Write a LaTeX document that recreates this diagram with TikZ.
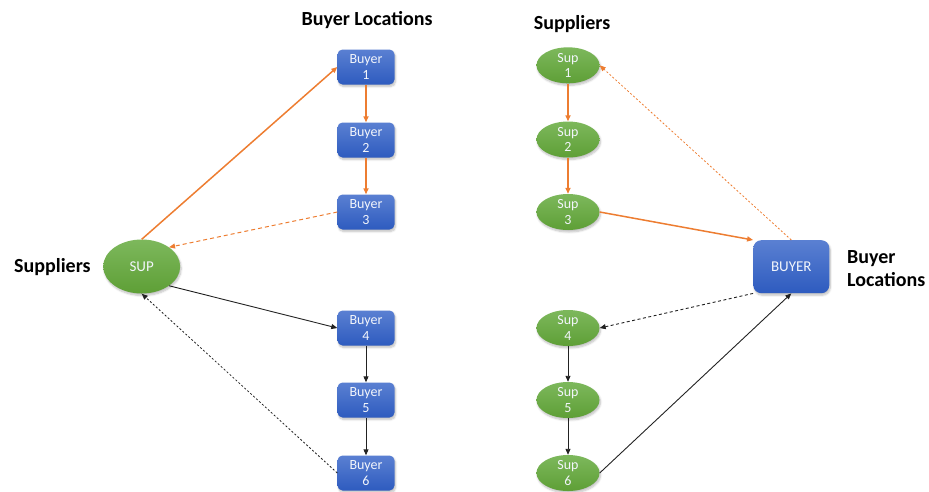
\documentclass[tikz,border=0pt]{standalone}
\usepackage{fontspec}
\setmainfont{Carlito}
\usetikzlibrary{shapes.geometric,shadows.blur,arrows.meta}
\definecolor{bluetop}{HTML}{5A80D2}
\definecolor{bluebot}{HTML}{2E5BBF}
\definecolor{greentop}{HTML}{7DB85C}
\definecolor{greenbot}{HTML}{5E9F36}
\definecolor{orangeln}{HTML}{ED7D31}
\definecolor{darkln}{HTML}{222222}
\definecolor{nodetext}{HTML}{F2F5FB}
\tikzset{
  bbox/.style={rectangle, rounded corners=5pt, minimum width=57pt, minimum height=35pt,
    top color=bluetop, bottom color=bluebot, draw=none, text=nodetext, align=center,
    font=\fontsize{14}{15.5}\selectfont, inner sep=0pt,
    blur shadow={shadow blur steps=6, shadow xshift=1pt, shadow yshift=-2pt, shadow opacity=25}},
  bigbox/.style={bbox, rounded corners=8pt, minimum width=76pt, minimum height=53pt, font=\fontsize{15}{17}\selectfont},
  sbox/.style={ellipse, minimum width=63pt, minimum height=36pt,
    top color=greentop, bottom color=greenbot, draw=none, text=nodetext, align=center,
    font=\fontsize{14}{15.5}\selectfont, inner sep=0pt,
    blur shadow={shadow blur steps=6, shadow xshift=1pt, shadow yshift=-2pt, shadow opacity=25}},
  bigell/.style={sbox, minimum width=77pt, minimum height=54pt, font=\fontsize{15}{17}\selectfont},
  title/.style={font=\fontsize{20}{23}\selectfont\bfseries, text=black, inner sep=0pt, align=left},
  oarr/.style={draw=orangeln, line width=1.5pt, -{Triangle[length=6pt,width=5pt]}},
  oarrd/.style={oarr, line width=1pt, dash pattern=on 4pt off 3pt},
  oarrdot/.style={oarr, line width=0.8pt, dash pattern=on 2pt off 2pt},
  karr/.style={draw=darkln, line width=0.9pt, -{Triangle[length=6pt,width=5pt]}},
  karrd/.style={karr, dash pattern=on 3pt off 2.5pt},
  karrdot/.style={karr, line width=0.8pt, dash pattern=on 2pt off 2pt},
}
\begin{document}
\begin{tikzpicture}[x=1pt,y=-1pt]
\useasboundingbox (0,0) rectangle (929,491);
% left side
\node[title, anchor=base] (t1) at (367,25) {Buyer Locations};
\node[title, anchor=base west] (t2) at (14,272) {Suppliers};
\node[bigell] (sup) at (141.7,266.5) {SUP};
\node[bbox] (b1) at (366,67) {Buyer\\1};
\node[bbox] (b2) at (366,140) {Buyer\\2};
\node[bbox] (b3) at (366,212) {Buyer\\3};
\node[bbox] (b4) at (366,328) {Buyer\\4};
\node[bbox] (b5) at (366,400) {Buyer\\5};
\node[bbox] (b6) at (366,473) {Buyer\\6};
\draw[oarr] (sup.north) -- (b1.west);
\draw[oarr] (b1.south) -- (b2.north);
\draw[oarr] (b2.south) -- (b3.north);
\draw[oarrd] (b3.west) -- (sup.north east);
\draw[karr] (sup.south east) -- (b4.west);
\draw[karr] (b4) -- (b5);
\draw[karr] (b5) -- (b6);
\draw[karrdot] (b6.west) -- (sup.south);
% right side
\node[title, anchor=base] (t3) at (572,29) {Suppliers};
\node[title, anchor=base west] (t4) at (847,286) {Buyer\\Locations};
\node[bigbox] (buyer) at (791.3,266.7) {BUYER};
\node[sbox] (s1) at (568,65.3) {Sup\\1};
\node[sbox] (s2) at (568,139.5) {Sup\\2};
\node[sbox] (s3) at (568,212) {Sup\\3};
\node[sbox] (s4) at (568,328) {Sup\\4};
\node[sbox] (s5) at (568,400) {Sup\\5};
\node[sbox] (s6) at (568,473) {Sup\\6};
\draw[oarr] (s1.south) -- (s2.north);
\draw[oarr] (s2.south) -- (s3.north);
\draw[oarr] (s3.east) -- (buyer.north west);
\draw[oarrdot] (buyer.north) -- (s1.east);
\draw[karrd] (buyer.south west) -- (s4.east);
\draw[karr] (s4) -- (s5);
\draw[karr] (s5) -- (s6);
\draw[karr] (s6.east) -- (buyer.south);
\end{tikzpicture}
\end{document}
